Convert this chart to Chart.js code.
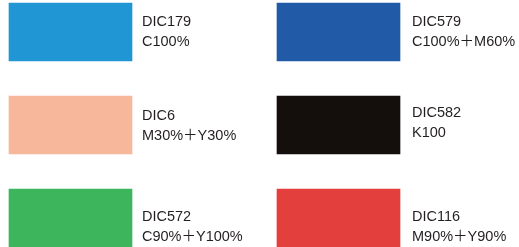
<!DOCTYPE html>
<html>
<head>
<meta charset="utf-8">
<script src="https://cdn.jsdelivr.net/npm/chart.js@4/dist/chart.umd.min.js"></script>
<style>
  html, body { margin: 0; padding: 0; background: #fff; }
  #wrap { width: 519px; height: 247px; }
</style>
</head>
<body>
<div id="wrap"><canvas id="swatches"></canvas></div>
<script>
// colour chips: row centres on y, x range of each chip
const rows = [32, 125, 218];
const leftCodes = ["DIC179", "DIC6", "DIC572"];
const leftMix = ["C100%", "M30%＋Y30%", "C90%＋Y100%"];
const leftColors = ["#2196d4", "#f6b79b", "#3cb55d"];
const rightCodes = ["DIC579", "DIC582", "DIC116"];
const rightMix = ["C100%＋M60%", "K100", "M90%＋Y90%"];
const rightColors = ["#215ba8", "#140e0c", "#e23f3d"];
const leftSpan = [9, 132];
const rightSpan = [277, 400];

const textDy = [[0, 0], [1, -2], [9, 9]]; // text offset from row centre, per row [left, right]

const labelPlugin = {
    id: 'chipLabels',
    afterDatasetsDraw(chart) {
        const ctx = chart.ctx;
        const xs = chart.scales.x, ys = chart.scales.y;
        ctx.save();
        ctx.fillStyle = '#231f20';
        ctx.font = '14.5px "Liberation Sans", Arial, "Noto Sans CJK JP", sans-serif';
        ctx.textBaseline = 'middle';
        ctx.textAlign = 'left';
        rows.forEach((r, i) => {
            let yl = ys.getPixelForValue(r) + textDy[i][0];
            let yr = ys.getPixelForValue(r) + textDy[i][1];
            let xl = xs.getPixelForValue(leftSpan[1]) + 10;
            let xr = xs.getPixelForValue(rightSpan[1]) + 12;
            ctx.fillText(leftCodes[i], xl, yl - 10);
            ctx.fillText(leftMix[i], xl, yl + 10);
            ctx.fillText(rightCodes[i], xr, yr - 10);
            ctx.fillText(rightMix[i], xr, yr + 10);
        });
        ctx.restore();
    }
};

new Chart(document.getElementById('swatches'), {
    type: 'bar',
    data: {
        datasets: [
            {
                label: 'left',
                data: rows.map(r => ({ y: r, x: leftSpan })),
                backgroundColor: leftColors,
                grouped: false
            },
            {
                label: 'right',
                data: rows.map(r => ({ y: r, x: rightSpan })),
                backgroundColor: rightColors,
                grouped: false
            }
        ]
    },
    options: {
        indexAxis: 'y',
        responsive: true,
        maintainAspectRatio: false,
        animation: false,
        barThickness: 58,
        layout: { padding: 0 },
        scales: {
            x: { type: 'linear', min: 0, max: 519, display: false },
            y: { type: 'linear', min: 0, max: 247, reverse: true, offset: false, display: false }
        },
        plugins: {
            legend: { display: false },
            tooltip: { enabled: false }
        }
    },
    plugins: [labelPlugin]
});
</script>
</body>
</html>
